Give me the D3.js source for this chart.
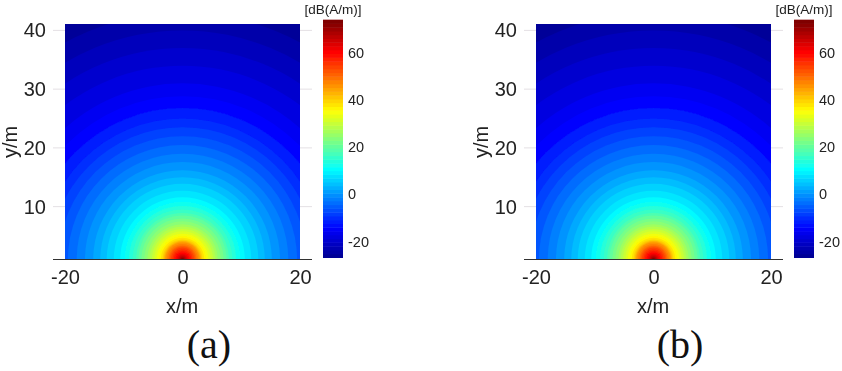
<!DOCTYPE html>
<html lang="en">

<head>
    <meta charset="UTF-8">
    <title>D3</title>
    <style>
        html, body {
            margin: 0;
            padding: 0;
            background: #fff;
        }

        svg {
            display: block;
        }

        text {
            font-family: 'Liberation Sans', Arial, sans-serif;
            fill: #222;
        }

        .panelLabel {
            font-family: 'Liberation Serif', 'Times New Roman', serif;
            font-size: 40px;
            fill: #111;
        }
    </style>
</head>

<body>
    <div id='chart'></div>
</body>
<script src="https://cdn.jsdelivr.net/npm/d3@7/dist/d3.min.js"></script>
<script>
    // band levels in dB, and the radius in metres where each band ends, read along x=0
    var bandLevels = [72, 70, 68, 66, 64, 62, 60, 58, 56, 54, 52, 50, 48, 46, 44, 42, 40, 38, 36, 34, 32, 30, 28, 26, 24, 22, 20, 18, 16, 14, 12, 10, 8, 6, 4, 2, 0, -2, -4, -6, -8, -10, -12, -14, -16, -18, -20, -22, -24, -26];
    var bandRadii = [0.2, 0.3, 0.45, 0.6, 0.8, 1.0, 1.25, 1.5, 1.75, 2.0, 2.2, 2.4, 2.65, 2.9, 3.05, 3.2, 3.4, 3.7, 4.0, 4.4, 4.8, 5.2, 5.6, 6.0, 6.5, 7.0, 7.5, 7.9, 8.5, 9.1, 9.8, 10.6, 11.7, 12.9, 14, 15.2, 16.6, 18, 19.5, 21, 22.5, 24, 25.8, 27.8, 30, 33, 36, 39, 42, 46];
    var xTicks = [-20, 0, 20];
    var yTicks = [10, 20, 30, 40];
    var colorTicks = [-20, 0, 20, 40, 60];
    var panels = ['(a)', '(b)'];
    var panelOffsets = [0, 471];

    // jet colour stops
    var jetStops = ['#00008f', '#0000ff', '#00ffff', '#ffff00', '#ff0000', '#800000'];
    var jetPositions = [-27, -14.5, 10.4, 35.3, 60.2, 72.6];

    var color = d3.scaleLinear().domain(jetPositions).range(jetStops).clamp(true);

    var xScale = d3.scaleLinear().domain([-20, 20]).range([65, 300]);
    var yScale = d3.scaleLinear().domain([1, 41]).range([259.5, 24.5]);
    var barScale = d3.scaleLinear().domain([-27, 72.6]).range([258, 23]);

    var svg = d3.select('#chart').append('svg')
        .attr('width', 842)
        .attr('height', 371);

    svg.append('defs').append('clipPath')
        .attr('id', 'plotClip')
        .append('rect')
        .attr('x', 65)
        .attr('y', 24)
        .attr('width', 235)
        .attr('height', 235);

    // slight softening, the source is a low resolution raster
    svg.select('defs').append('filter')
        .attr('id', 'soft')
        .append('feGaussianBlur')
        .attr('stdDeviation', 0.55);

    function styleTicks(axis, size) {
        axis.select('.domain').remove();
        axis.selectAll('text')
            .attr('font-size', size)
            .style('font-family', "'Liberation Sans', Arial, sans-serif")
            .style('fill', '#222');
    }

    function drawPanel(label, offset) {
        var g = svg.append('g')
            .attr('transform', 'translate(' + offset + ',0)');

        // faint tick lines either side of the field
        g.selectAll('.tickLine')
            .data(yTicks)
            .enter().append('line')
            .attr('x1', 53)
            .attr('x2', 312)
            .attr('y1', function (d) { return yScale(d); })
            .attr('y2', function (d) { return yScale(d); })
            .attr('stroke', '#e4e0e4')
            .attr('stroke-width', 1);

        // field, largest circle first
        var field = g.append('g').attr('clip-path', 'url(#plotClip)');
        var pxPerMetre = xScale(1) - xScale(0);
        var bands = d3.range(bandLevels.length).reverse();

        field.append('rect')
            .attr('x', 65)
            .attr('y', 24)
            .attr('width', 235)
            .attr('height', 235)
            .attr('fill', color(-27));

        field.selectAll('circle')
            .data(bands)
            .enter().append('circle')
            .attr('cx', xScale(0))
            .attr('cy', yScale(1))
            .attr('r', function (i) { return bandRadii[i] * pxPerMetre; })
            .attr('fill', function (i) { return color(bandLevels[i]); });

        // bottom axis
        var xAxis = g.append('g')
            .attr('transform', 'translate(0,259.5)')
            .call(d3.axisBottom(xScale).tickValues(xTicks).tickSize(0).tickPadding(10).tickFormat(function (d) { return String(d); }));
        styleTicks(xAxis, 20);
        xAxis.append('line')
            .attr('x1', 53)
            .attr('x2', 312)
            .attr('stroke', '#333')
            .attr('stroke-width', 1.2);

        // left axis
        var yAxis = g.append('g')
            .attr('transform', 'translate(53,0)')
            .call(d3.axisLeft(yScale).tickValues(yTicks).tickSize(0).tickPadding(7).tickFormat(d3.format('d')));
        styleTicks(yAxis, 20);

        g.append('text')
            .attr('x', 182)
            .attr('y', 313)
            .attr('text-anchor', 'middle')
            .attr('font-size', 20)
            .text('x/m');

        g.append('text')
            .attr('transform', 'translate(17,142) rotate(-90)')
            .attr('text-anchor', 'middle')
            .attr('font-size', 20)
            .text('y/m');

        // colour bar
        var barSteps = d3.range(-27, 72.6, 1.6);
        g.selectAll('.barCell')
            .data(barSteps)
            .enter().append('rect')
            .attr('class', 'barCell')
            .attr('x', 323)
            .attr('width', 20)
            .attr('y', function (d) { return barScale(d + 1.6) - 0.5; })
            .attr('height', function (d) { return barScale(d) - barScale(d + 1.6) + 0.5; })
            .attr('fill', function (d) { return color(d + 0.8); });

        var barAxis = g.append('g')
            .attr('transform', 'translate(343,0)')
            .call(d3.axisRight(barScale).tickValues(colorTicks).tickSize(0).tickPadding(5).tickFormat(function (d) { return String(d); }));
        styleTicks(barAxis, 14.5);

        g.append('text')
            .attr('x', 333)
            .attr('y', 14)
            .attr('text-anchor', 'middle')
            .attr('font-size', 13.5)
            .text('[dB(A/m)]');

        // the serif label stays outside the softened group
        svg.append('text')
            .attr('class', 'panelLabel')
            .attr('x', 209 + offset)
            .attr('y', 358)
            .attr('text-anchor', 'middle')
            .text(label);

        g.attr('filter', 'url(#soft)');
    }

    panels.forEach(function (label, i) {
        drawPanel(label, panelOffsets[i]);
    });
</script>

</html>
